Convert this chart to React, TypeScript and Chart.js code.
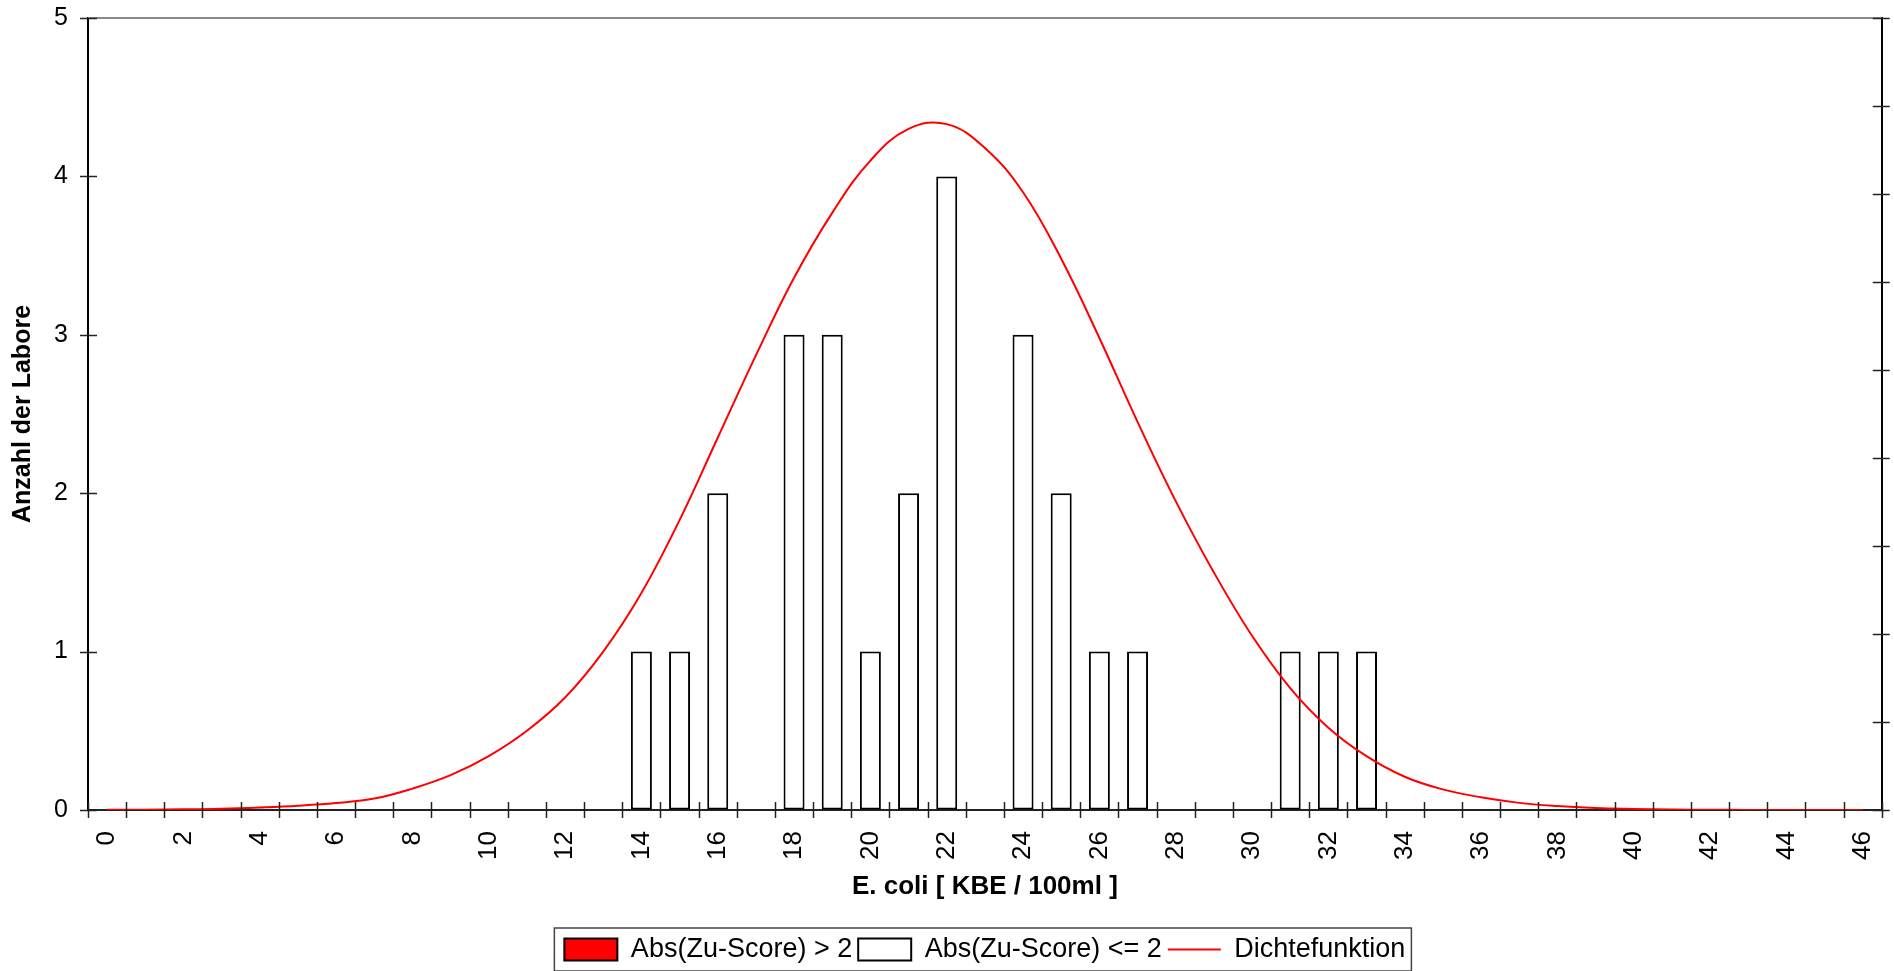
import React, { useEffect, useRef } from "react";
import { Chart, registerables } from "chart.js";

Chart.register(...registerables);

const categories: string[] = [
  "0", "1", "2", "3", "4", "5", "6", "7", "8", "9",
  "10", "11", "12", "13", "14", "15", "16", "17", "18", "19",
  "20", "21", "22", "23", "24", "25", "26", "27", "28", "29",
  "30", "31", "32", "33", "34", "35", "36", "37", "38", "39",
  "40", "41", "42", "43", "44", "45", "46",
];

// Abs(Zu-Score) > 2 : no labs in this round
const outlierCounts: (number | null)[] = [];

// Abs(Zu-Score) <= 2
const okCounts: (number | null)[] = [
  null, null, null, null, null, null, null, null, null, null,
  null, null, null, null, 1, 1, 2, null, 3, 3,
  1, 2, 4, null, 3, 2, 1, 1, null, null,
  null, 1, 1, 1, null, null, null, null, null, null,
  null, null, null, null, null, null, null,
];

// Dichtefunktion
const density: number[] = [
  0.001, 0.002, 0.004, 0.008, 0.016, 0.027, 0.044, 0.072, 0.135, 0.22,
  0.34, 0.5, 0.71, 1.0, 1.37, 1.83, 2.35, 2.87, 3.36, 3.77,
  4.1, 4.3, 4.33, 4.18, 3.9, 3.48, 2.98, 2.45, 1.95, 1.5,
  1.1, 0.77, 0.52, 0.34, 0.21, 0.13, 0.08, 0.045, 0.025, 0.013,
  0.007, 0.003, 0.0015, 0.0007, 0.0003, 0.0001, 0.0001,
];

const FONT = "'Liberation Sans', Arial, sans-serif";

const frameAndTicks = {
  id: "frameAndTicks",
  afterDraw(chart: any) {
    const ctx = chart.ctx;
    const { left, right, top, bottom } = chart.chartArea;
    const xs = chart.scales.x;
    const ys = chart.scales.y;
    const y2 = chart.scales.y2;
    ctx.save();
    // top border
    ctx.strokeStyle = "#8a8a8a";
    ctx.lineWidth = 2;
    ctx.beginPath();
    ctx.moveTo(left, top);
    ctx.lineTo(right, top);
    ctx.stroke();

    ctx.strokeStyle = "#222";
    ctx.lineWidth = 1.5;
    // x ticks at category boundaries
    const step = xs.getPixelForValue(1) - xs.getPixelForValue(0);
    for (let i = 0; i <= categories.length; i++) {
      const px = Math.round(xs.getPixelForValue(0) - step / 2 + i * step) + 0.5;
      ctx.beginPath();
      ctx.moveTo(px, bottom - 8);
      ctx.lineTo(px, bottom + 8);
      ctx.stroke();
    }
    // left ticks
    ys.ticks.forEach((t: any) => {
      const py = Math.round(ys.getPixelForValue(t.value)) + 0.5;
      ctx.beginPath();
      ctx.moveTo(left - 8, py);
      ctx.lineTo(left + 9, py);
      ctx.stroke();
    });
    // right ticks
    y2.ticks.forEach((t: any) => {
      const py = Math.round(y2.getPixelForValue(t.value)) + 0.5;
      ctx.beginPath();
      ctx.moveTo(right - 9, py);
      ctx.lineTo(right + 8, py);
      ctx.stroke();
    });

    // legend frame
    const lg = chart.legend;
    if (lg && lg.legendHitBoxes && lg.legendHitBoxes.length) {
      const hb = lg.legendHitBoxes;
      let l = Infinity, r = -Infinity, t = Infinity, b = -Infinity;
      hb.forEach((h: any) => {
        l = Math.min(l, h.left);
        r = Math.max(r, h.left + h.width);
        t = Math.min(t, h.top);
        b = Math.max(b, h.top + h.height);
      });
      const fl = l - 10;
      const fr = r + 6;
      const ft = t - 8;
      const fb = b + 8;
      ctx.strokeStyle = "#444";
      ctx.lineWidth = 1.5;
      ctx.strokeRect(fl, ft, fr - fl, fb - ft);
    }
    ctx.restore();
  },
};

export default function App() {
  const ref = useRef<HTMLCanvasElement | null>(null);

  useEffect(() => {
    document.body.style.margin = "0";
    Chart.defaults.color = "#000";
    Chart.defaults.font.family = FONT;
    const canvas = ref.current;
    if (!canvas) return;

    const chart = new Chart(canvas, {
      type: "bar",
      data: {
        labels: categories,
        datasets: [
          {
            type: "bar",
            label: "Abs(Zu-Score) > 2",
            data: outlierCounts,
            backgroundColor: "#ff0000",
            borderColor: "#000",
            borderWidth: 2,
            borderSkipped: false,
            grouped: false,
            barPercentage: 0.55,
            categoryPercentage: 1,
            yAxisID: "y",
            order: 2,
          } as any,
          {
            type: "bar",
            label: "Abs(Zu-Score) <= 2",
            data: okCounts,
            backgroundColor: "#ffffff",
            borderColor: "#000",
            borderWidth: 2,
            borderSkipped: false,
            grouped: false,
            barPercentage: 0.55,
            categoryPercentage: 1,
            yAxisID: "y",
            order: 2,
          } as any,
          {
            type: "line",
            label: "Dichtefunktion",
            data: density,
            borderColor: "#ff0000",
            backgroundColor: "#ff0000",
            borderWidth: 2,
            pointRadius: 0,
            tension: 0.4,
            fill: false,
            yAxisID: "y",
            order: 1,
          } as any,
        ],
      },
      options: {
        animation: false,
        responsive: false,
        devicePixelRatio: 1,
        layout: { padding: { top: 18, bottom: -2, left: 0, right: 0 } },
        plugins: {
          tooltip: { enabled: false },
          legend: {
            position: "bottom",
            fullSize: false,
            labels: {
              usePointStyle: true,
              pointStyleWidth: 53,
              boxHeight: 22,
              padding: 6,
              color: "#000",
              font: { size: 27, family: FONT },
              sort: (a: any, b: any) => a.datasetIndex - b.datasetIndex,
              generateLabels: (c: any) => {
                const items = (Chart.defaults.plugins.legend.labels as any).generateLabels(c);
                items.forEach((it: any) => {
                  const i = it.datasetIndex;
                  if (i === 2) {
                    it.pointStyle = "line";
                    it.strokeStyle = "#ff0000";
                    it.lineWidth = 2;
                  } else {
                    it.pointStyle = "rect";
                    it.fillStyle = i === 0 ? "#ff0000" : "#ffffff";
                    it.strokeStyle = "#000";
                    it.lineWidth = 2;
                  }
                });
                return items;
              },
            },
          },
        },
        scales: {
          x: {
            type: "category",
            offset: true,
            grid: {
              display: true,
              drawOnChartArea: false,
              drawTicks: true,
              tickLength: 21,
              tickColor: "rgba(0,0,0,0)",
              offset: true,
            },
            border: { display: true, color: "#222", width: 2 },
            ticks: {
              autoSkip: false,
              maxRotation: 90,
              minRotation: 90,
              padding: 0,
              font: { size: 26, family: FONT },
              callback: (_v: any, i: number) => (i % 2 === 0 ? categories[i] : ""),
            },
            title: {
              display: true,
              text: "E. coli [ KBE / 100ml ]",
              font: { size: 26, weight: "bold", family: FONT },
              padding: { top: 4, bottom: 28 },
            },
            afterFit: (s: any) => {
              s.height = 120;
            },
          },
          y: {
            type: "linear",
            position: "left",
            min: 0,
            max: 5,
            grid: {
              display: true,
              drawOnChartArea: false,
              drawTicks: true,
              tickLength: 20,
              tickColor: "rgba(0,0,0,0)",
            },
            border: { display: true, color: "#000", width: 2 },
            ticks: {
              stepSize: 1,
              padding: 0,
              font: { size: 25, family: FONT },
            },
            title: {
              display: true,
              text: "Anzahl der Labore",
              font: { size: 25, weight: "bold", family: FONT },
              padding: { top: 8, bottom: 0 },
            },
            afterFit: (s: any) => {
              s.width = 88;
            },
          },
          y2: {
            type: "linear",
            position: "right",
            min: 0,
            max: 9,
            grid: { display: true, drawOnChartArea: false, drawTicks: false },
            border: { display: true, color: "#000", width: 2 },
            ticks: { stepSize: 1, display: false },
            afterFit: (s: any) => {
              s.width = 12;
            },
          },
        },
      },
      plugins: [frameAndTicks],
    });

    return () => chart.destroy();
  }, []);

  return (
    <div style={{ width: 1894, height: 971, background: "#fff" }}>
      <canvas ref={ref} width={1894} height={971} style={{ display: "block", width: 1894, height: 971 }} />
    </div>
  );
}
